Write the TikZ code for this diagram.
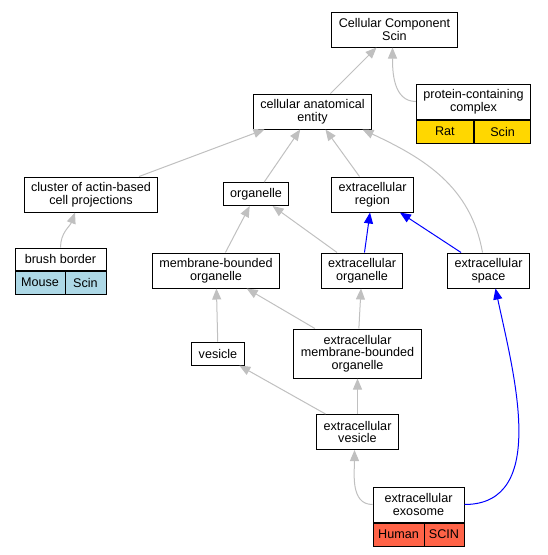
\documentclass[tikz,border=0pt]{standalone}
\usepackage{fontspec}
\setmainfont{Liberation Sans}
\usepackage{tikz}
\usetikzlibrary{arrows.meta}

\definecolor{edgegray}{HTML}{C0C0C0}
\definecolor{ratgold}{HTML}{FFD700}
\definecolor{mouseblue}{HTML}{ADD8E6}
\definecolor{humanred}{HTML}{FF6347}

\begin{document}
\begin{tikzpicture}[x=1pt,y=-1pt,
    font=\fontsize{12.6}{12.7}\selectfont,
    term/.style={draw=black, line width=1pt, align=center, inner xsep=7pt, inner ysep=0pt},
    one/.style={term, minimum height=23pt},
    two/.style={term, minimum height=35pt},
    three/.style={term, minimum height=49pt},
    cell/.style={draw=black, line width=1pt, inner sep=0pt, minimum height=23pt},
    gline/.style={draw=edgegray, line width=1pt, -{Triangle[length=11pt,width=9pt]}},
    bline/.style={draw=blue, line width=1pt, -{Triangle[length=11pt,width=9pt]}}]
  \useasboundingbox (0,0) rectangle (547,555);

  % terms
  \node[two] (cc) at (394.5,29.5) {Cellular Component\\Scin};
  \node[two] (cae) at (312.5,111.5) {cellular anatomical\\entity};
  \node[two, minimum width=113pt] (pcc) at (473.5,101.5) {protein-containing\\complex};
  \node[cell, fill=ratgold, minimum width=57pt, anchor=north west] (pccrat) at (pcc.south west) {Rat};
  \node[cell, fill=ratgold, minimum width=56pt, anchor=north east] (pccscin) at (pcc.south east) {Scin};

  \node[two] (cluster) at (91,194.5) {cluster of actin-based\\cell projections};
  \node[one] (organelle) at (256,194) {organelle};
  \node[two] (exregion) at (372.5,194.5) {extracellular\\region};

  \node[term, minimum width=91pt, minimum height=22pt] (brush) at (60.5,259) {brush border};
  \node[cell, fill=mouseblue, minimum width=50pt, anchor=north west] (brushmouse) at (brush.south west) {Mouse};
  \node[cell, fill=mouseblue, minimum width=41pt, anchor=north east] (brushscin) at (brush.south east) {Scin};

  \node[two] (mbo) at (216,270.5) {membrane-bounded\\organelle};
  \node[two] (exorg) at (362,270.5) {extracellular\\organelle};
  \node[two] (exspace) at (488.5,270.5) {extracellular\\space};

  \node[one] (vesicle) at (218,353.5) {vesicle};
  \node[three] (embo) at (357.5,353.5) {extracellular\\membrane-bounded\\organelle};
  \node[two] (exves) at (357.5,432) {extracellular\\vesicle};

  \node[two, minimum width=91pt] (exo) at (418.5,504.5) {extracellular\\exosome};
  \node[cell, fill=humanred, minimum width=51pt, anchor=north west] (exohuman) at (exo.south west) {Human};
  \node[cell, fill=humanred, minimum width=40pt, anchor=north east] (exoscin) at (exo.south east) {SCIN};

  % is_a / part_of links
  \draw[gline] (cae) -- (cc);
  \draw[gline] (pcc.west) to[out=180,in=-90] ([xshift=-2pt]cc.south);
  \draw[gline] (cluster) -- (cae);
  \draw[gline] (organelle) -- (cae);
  \draw[gline] (exregion) -- (cae);
  \draw[gline] ([xshift=-6pt]exspace.north) to[out=100,in=-25] ([xshift=50pt]cae.south);
  \draw[gline] (brush.north) to[out=90,in=-110] ([xshift=-16pt]cluster.south);

  \draw[gline] (mbo) -- (organelle);
  \draw[gline] (exorg) -- (organelle);
  \draw[bline] (exorg) -- (exregion);
  \draw[bline] (exspace) -- (exregion);

  \draw[gline] (vesicle) -- (mbo);
  \draw[gline] (embo) -- (mbo);
  \draw[gline] (embo) -- (exorg);
  \draw[gline] (exves) -- (vesicle);
  \draw[gline] (exves) -- (embo);

  \draw[gline] (exo.west) to[out=180,in=-90] ([xshift=-3pt]exves.south);
  \draw[bline] (exo.east) to[out=0,in=-78] ([xshift=7pt]exspace.south);
\end{tikzpicture}
\end{document}
